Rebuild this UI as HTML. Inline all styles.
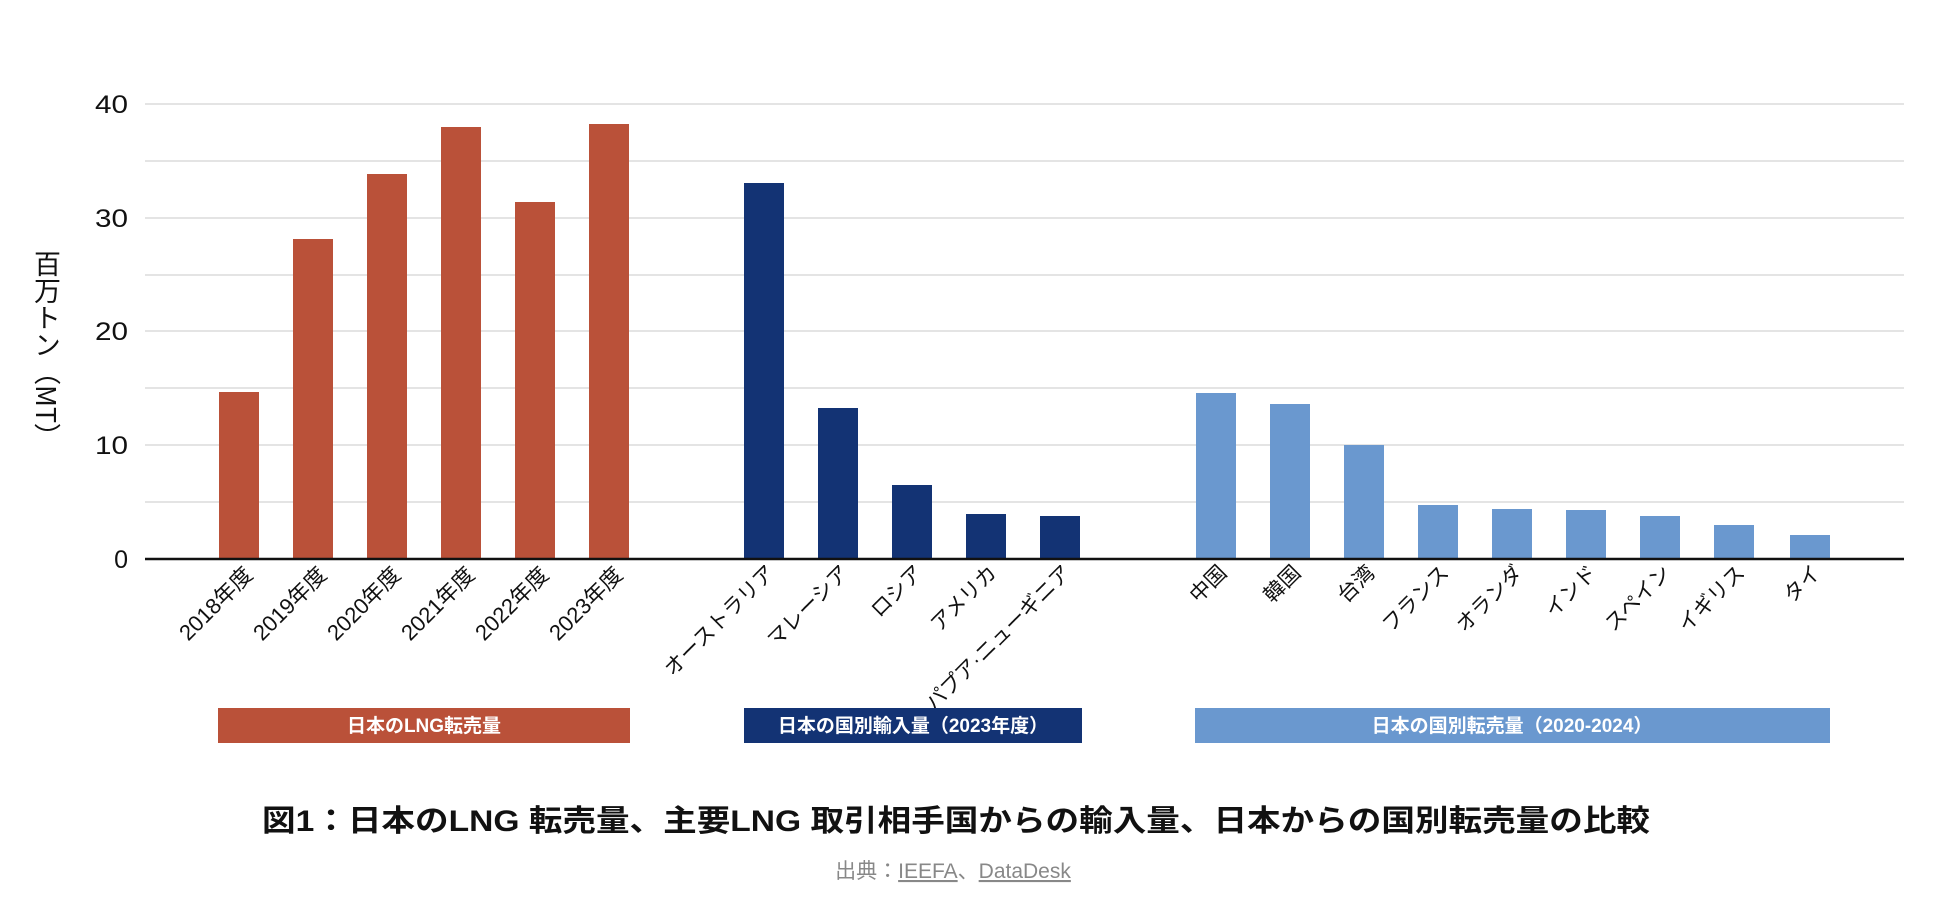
<!DOCTYPE html>
<html><head><meta charset="utf-8"><style>
body{margin:0;background:#fff;}
svg{display:block;font-family:"Liberation Sans","Noto Sans CJK JP",sans-serif;}
#yt{position:absolute;left:32px;top:250px;writing-mode:vertical-rl;font-family:"Noto Sans CJK JP",sans-serif;font-size:27px;line-height:30px;color:#111;}
</style></head><body>
<div id="yt">百万トン（MT）</div>
<svg width="1936" height="902" viewBox="0 0 1936 902" xmlns="http://www.w3.org/2000/svg">
<g stroke="#dcdcdc" stroke-width="1.5">
<line x1="145" x2="1904" y1="104" y2="104"/>
<line x1="145" x2="1904" y1="161" y2="161"/>
<line x1="145" x2="1904" y1="218" y2="218"/>
<line x1="145" x2="1904" y1="275" y2="275"/>
<line x1="145" x2="1904" y1="331" y2="331"/>
<line x1="145" x2="1904" y1="388" y2="388"/>
<line x1="145" x2="1904" y1="445" y2="445"/>
<line x1="145" x2="1904" y1="502" y2="502"/>
</g>
<g font-size="25" fill="#111" text-anchor="end">
<text x="128" y="113" textLength="33" lengthAdjust="spacingAndGlyphs">40</text>
<text x="128" y="227" textLength="33" lengthAdjust="spacingAndGlyphs">30</text>
<text x="128" y="340" textLength="33" lengthAdjust="spacingAndGlyphs">20</text>
<text x="128" y="454" textLength="33" lengthAdjust="spacingAndGlyphs">10</text>
<text x="128" y="568">0</text>
</g>
<g fill="#BA5139">
<rect x="219" y="392" width="40" height="167"/>
<rect x="293" y="239" width="40" height="320"/>
<rect x="367" y="174" width="40" height="385"/>
<rect x="441" y="127" width="40" height="432"/>
<rect x="515" y="202" width="40" height="357"/>
<rect x="589" y="124" width="40" height="435"/>
</g>
<g fill="#133374">
<rect x="744" y="183" width="40" height="376"/>
<rect x="818" y="408" width="40" height="151"/>
<rect x="892" y="485" width="40" height="74"/>
<rect x="966" y="514" width="40" height="45"/>
<rect x="1040" y="516" width="40" height="43"/>
</g>
<g fill="#6A98CF">
<rect x="1196" y="393" width="40" height="166"/>
<rect x="1270" y="404" width="40" height="155"/>
<rect x="1344" y="445" width="40" height="114"/>
<rect x="1418" y="505" width="40" height="54"/>
<rect x="1492" y="509" width="40" height="50"/>
<rect x="1566" y="510" width="40" height="49"/>
<rect x="1640" y="516" width="40" height="43"/>
<rect x="1714" y="525" width="40" height="34"/>
<rect x="1790" y="535" width="40" height="24"/>
</g>
<line x1="145" x2="1904" y1="559" y2="559" stroke="#111" stroke-width="2.5"/>
<g font-size="22" fill="#111" text-anchor="end">
<text transform="translate(254,576) rotate(-45)">2018年度</text>
<text transform="translate(328,576) rotate(-45)">2019年度</text>
<text transform="translate(402,576) rotate(-45)">2020年度</text>
<text transform="translate(476,576) rotate(-45)">2021年度</text>
<text transform="translate(550,576) rotate(-45)">2022年度</text>
<text transform="translate(624,576) rotate(-45)">2023年度</text>
</g>
<g font-size="21" fill="#111" text-anchor="end">
<text transform="translate(776,574) rotate(-45)">オーストラリア</text>
<text transform="translate(850,574) rotate(-45)">マレーシア</text>
<text transform="translate(924,574) rotate(-45)">ロシア</text>
<text transform="translate(998,574) rotate(-45)">アメリカ</text>
<text transform="translate(1072,574) rotate(-45)" textLength="195" lengthAdjust="spacingAndGlyphs">パプア·ニューギニア</text>
<text transform="translate(1228,574) rotate(-45)">中国</text>
<text transform="translate(1302,574) rotate(-45)">韓国</text>
<text transform="translate(1376,574) rotate(-45)">台湾</text>
<text transform="translate(1450,574) rotate(-45)">フランス</text>
<text transform="translate(1524,574) rotate(-45)">オランダ</text>
<text transform="translate(1598,574) rotate(-45)">インド</text>
<text transform="translate(1672,574) rotate(-45)">スペイン</text>
<text transform="translate(1746,574) rotate(-45)">イギリス</text>
<text transform="translate(1822,574) rotate(-45)">タイ</text>
</g>
<rect x="218" y="708" width="412" height="35" fill="#BA5139"/>
<rect x="744" y="708" width="338" height="35" fill="#133374"/>
<rect x="1195" y="708" width="635" height="35" fill="#6A98CF"/>
<g font-size="19" font-weight="bold" fill="#fff" text-anchor="middle">
<text x="424" y="732">日本のLNG転売量</text>
<text x="913" y="732">日本の国別輸入量（2023年度）</text>
<text x="1512" y="732">日本の国別転売量（2020-2024）</text>
</g>
<text x="956" y="831" font-size="30" font-weight="bold" fill="#111" text-anchor="middle" textLength="1388" lengthAdjust="spacingAndGlyphs">図1：日本のLNG 転売量、主要LNG 取引相手国からの輸入量、日本からの国別転売量の比較</text>
<text x="953" y="878" font-size="21" fill="#888" text-anchor="middle">出典：<tspan text-decoration="underline">IEEFA</tspan>、<tspan text-decoration="underline">DataDesk</tspan></text>
</svg>
</body></html>
